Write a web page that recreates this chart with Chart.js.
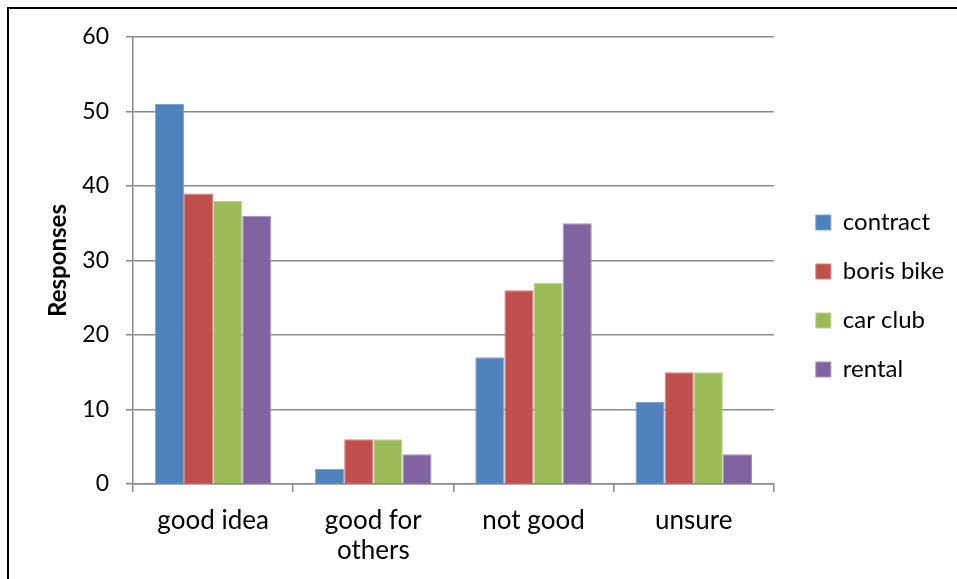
<!DOCTYPE html>
<html>
<head>
<meta charset="utf-8">
<script src="https://cdn.jsdelivr.net/npm/chart.js@4"></script>
<style>
  html, body { margin: 0; padding: 0; background: #fff; }
  #wrap { position: relative; width: 957px; height: 579px; }
  #frame { position: absolute; left: 7px; top: 7px; right: -10px; bottom: -10px;
           border-left: 2px solid #000; border-top: 2px solid #000; pointer-events: none; }
  canvas { position: absolute; left: 0; top: 0; }
</style>
</head>
<body>
<div id="wrap">
  <canvas id="chart" width="957" height="579"></canvas>
  <div id="frame"></div>
</div>
<script>
const categories = ['good idea', ['good for', 'others'], 'not good', 'unsure'];
const contract = [51, 2, 17, 11];
const borisBike = [39, 6, 26, 15];
const carClub = [38, 6, 27, 15];
const rental = [36, 4, 35, 4];
const yTicks = [0, 10, 20, 30, 40, 50, 60];

const font = 'Lato, "Open Sans", sans-serif';
const gridColor = '#8a8a8a';

// legend sits a little higher than the middle of the full height
const legendShift = {
    id: 'legendShift',
    afterLayout(chart) {
        chart.legend.top -= 12;
        chart.legend.bottom -= 12;
    }
};

function main() {
    const ctx = document.querySelector('#chart').getContext('2d');

    const series = [
        { label: 'contract', data: contract, fill: '#4f81bd', edge: '#7ea4d3' },
        { label: 'boris bike', data: borisBike, fill: '#c0504d', edge: '#d9827f' },
        { label: 'car club', data: carClub, fill: '#9bbb59', edge: '#bcd48c' },
        { label: 'rental', data: rental, fill: '#8064a2', edge: '#a891c2' }
    ];

    new Chart(ctx, {
        type: 'bar',
        data: {
            labels: categories,
            datasets: series.map(s => ({
                label: s.label,
                data: s.data,
                backgroundColor: s.fill,
                borderColor: s.edge,
                borderWidth: 1,
                categoryPercentage: 4 / 5.5,
                barPercentage: 1
            }))
        },
        options: {
            responsive: false,
            animation: false,
            layout: { padding: { top: 37, bottom: 0, left: 0, right: 8 } },
            plugins: {
                tooltip: { enabled: false },
                legend: {
                    position: 'right',
                    labels: {
                        font: { family: font, size: 24 },
                        color: '#000',
                        boxWidth: 15,
                        boxHeight: 15,
                        padding: 25
                    }
                }
            },
            scales: {
                x: {
                    grid: { drawOnChartArea: false, drawTicks: true, tickLength: 8, color: gridColor, lineWidth: 1.5 },
                    border: { color: gridColor, width: 1.5 },
                    ticks: {
                        font: { family: font, size: 26, lineHeight: 1.15 },
                        color: '#000',
                        padding: 14,
                        maxRotation: 0,
                        autoSkip: false
                    },
                    afterFit: s => { s.height = 95; }
                },
                y: {
                    min: 0,
                    max: 60,
                    afterBuildTicks: s => { s.ticks = yTicks.map(v => ({ value: v })); },
                    grid: { color: gridColor, lineWidth: 1.5, tickLength: 7 },
                    border: { color: gridColor, width: 1.5 },
                    ticks: {
                        font: { family: font, size: 23 },
                        color: '#000',
                        padding: 17
                    },
                    title: {
                        display: true,
                        text: 'Responses',
                        font: { family: font, size: 24, weight: 'bold' },
                        color: '#000',
                        padding: { top: 44, bottom: 0 }
                    },
                    afterFit: s => { s.width = 133; }
                },
                gap: {
                    position: 'right',
                    display: true,
                    grid: { display: false },
                    border: { display: false },
                    ticks: { display: false },
                    afterFit: s => { s.width = 17; }
                }
            }
        },
        plugins: [legendShift]
    });
}

main();
</script>
</body>
</html>
